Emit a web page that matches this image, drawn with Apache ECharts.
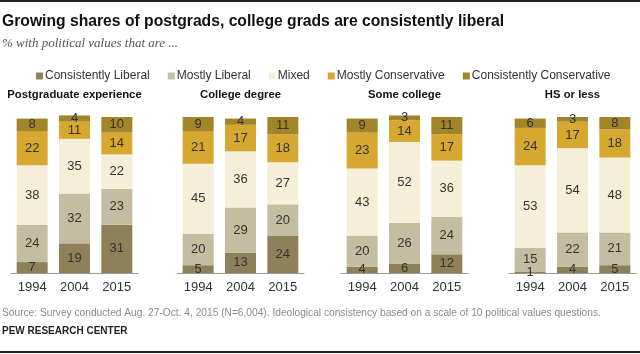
<!DOCTYPE html>
<html lang="en">

<head>
    <meta charset="UTF-8">
    <title>Growing shares of postgrads, college grads are consistently liberal</title>
    <script src="https://cdn.jsdelivr.net/npm/echarts/dist/echarts.min.js"></script>
    <style>
        html, body { margin: 0; padding: 0; background: #fff; }
        #chart { width: 640px; height: 354px; }
    </style>
</head>

<body>
    <div id="chart"></div>

    <script>
        // data (%)
        let years = ['1994', '2004', '2015'];
        let panels = ['Postgraduate experience', 'College degree', 'Some college', 'HS or less'];
        let seriesNames = ['Consistently Liberal', 'Mostly Liberal', 'Mixed', 'Mostly Conservative', 'Consistently Conservative'];

        // one array per series, each holding [panel][year]
        let consLiberal = [[7, 19, 31], [5, 13, 24], [4, 6, 12], [1, 4, 5]];
        let mostlyLiberal = [[24, 32, 23], [20, 29, 20], [20, 26, 24], [15, 22, 21]];
        let mixed = [[38, 35, 22], [45, 36, 27], [43, 52, 36], [53, 54, 48]];
        let mostlyConservative = [[22, 11, 14], [21, 17, 18], [23, 14, 17], [24, 17, 18]];
        let consConservative = [[8, 4, 10], [9, 4, 11], [9, 3, 11], [6, 3, 8]];

        let colors = ['#8e8058', '#c4bda1', '#f5eed9', '#d6a830', '#a18528'];
        let allData = [consLiberal, mostlyLiberal, mixed, mostlyConservative, consConservative];

        // panel placement
        let gridLefts = [11, 177, 341, 509];
        let gridWidth = 127;
        let gridTop = 117;
        let gridHeight = 156;
        let font = 'Liberation Sans, Arial, sans-serif';

        let chart = echarts.init(document.getElementById('chart'));

        let grids = [], xAxes = [], yAxes = [], series = [], titles = [];

        titles.push({
            text: 'Growing shares of postgrads, college grads are consistently liberal',
            left: 2, top: 14, padding: 0,
            textStyle: { fontFamily: font, fontSize: 15.7, fontWeight: 'bold', color: '#111' }
        });
        titles.push({
            text: '% with political values that are ...',
            left: 2, top: 37, padding: 0,
            textStyle: { fontFamily: 'Liberation Serif, serif', fontStyle: 'italic', fontSize: 13, fontWeight: 'normal', color: '#555' }
        });
        titles.push({
            text: 'Source: Survey conducted Aug. 27-Oct. 4, 2015 (N=6,004). Ideological consistency based on a scale of 10 political values questions.',
            left: 2, top: 308, padding: 0,
            textStyle: { fontFamily: font, fontSize: 10.2, fontWeight: 'normal', color: '#8a8a8a' }
        });
        titles.push({
            text: 'PEW RESEARCH CENTER',
            left: 2, top: 326, padding: 0,
            textStyle: { fontFamily: font, fontSize: 10, fontWeight: 'bold', color: '#222' }
        });

        panels.forEach((name, p) => {
            grids.push({ left: gridLefts[p], top: gridTop, width: gridWidth, height: gridHeight });
            xAxes.push({
                type: 'category',
                gridIndex: p,
                data: years,
                axisLine: { lineStyle: { color: '#999', width: 1 } },
                axisTick: { show: false },
                axisLabel: { fontFamily: font, fontSize: 13, color: '#333', margin: 8 }
            });
            yAxes.push({ type: 'value', gridIndex: p, min: 0, max: 100, show: false });
            titles.push({
                text: name,
                left: gridLefts[p] + gridWidth / 2,
                textAlign: 'center',
                top: 89, padding: 0,
                textStyle: { fontFamily: font, fontSize: 11.3, fontWeight: 'bold', color: '#111' }
            });
            seriesNames.forEach((s, i) => {
                series.push({
                    name: s,
                    type: 'bar',
                    stack: 'p' + p,
                    xAxisIndex: p,
                    yAxisIndex: p,
                    barWidth: 31,
                    clip: false,
                    itemStyle: { color: colors[i] },
                    label: {
                        show: true,
                        position: 'inside',
                        fontFamily: font,
                        fontSize: 13,
                        color: '#333'
                    },
                    data: allData[i][p]
                });
            });
        });

        let option = {
            animation: false,
            title: titles,
            legend: {
                data: seriesNames,
                top: 65,
                left: 31,
                icon: 'rect',
                itemWidth: 7,
                itemHeight: 7,
                itemGap: 18,
                textStyle: { fontFamily: font, fontSize: 12, color: '#333', padding: [0, 0, 0, -3] }
            },
            grid: grids,
            xAxis: xAxes,
            yAxis: yAxes,
            series: series,
            graphic: [
                { type: 'rect', shape: { x: 0, y: 0, width: 640, height: 2 }, style: { fill: '#222' } },
                { type: 'rect', shape: { x: 0, y: 351, width: 640, height: 2 }, style: { fill: '#222' } }
            ]
        };
        chart.setOption(option);
    </script>
</body>

</html>
